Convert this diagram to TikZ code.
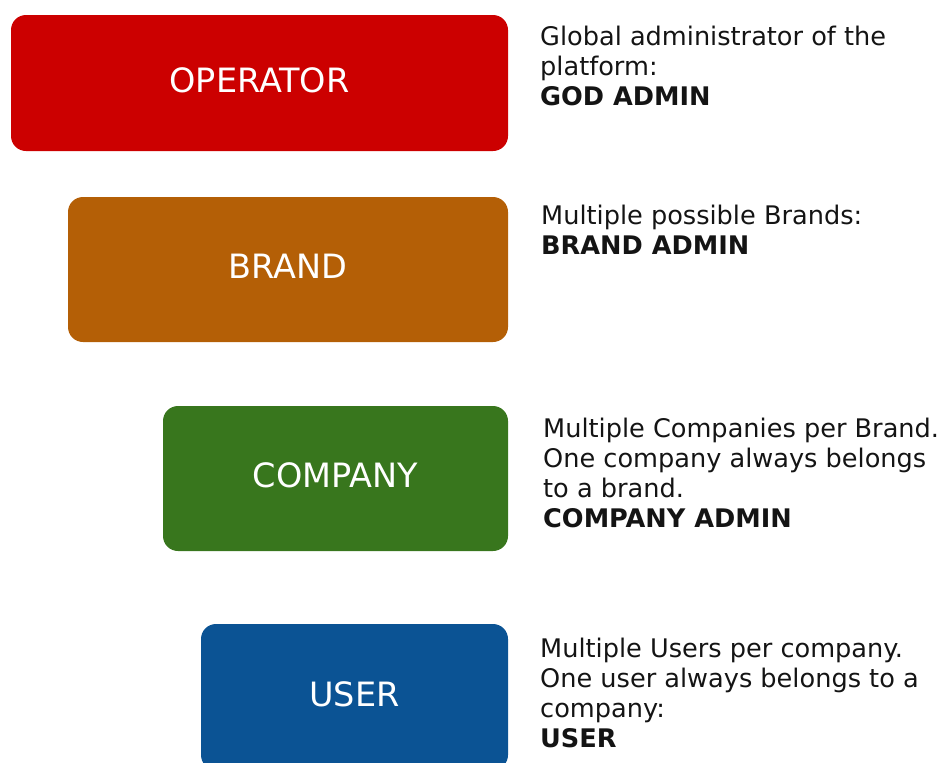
\documentclass[tikz,border=0pt]{standalone}
\usepackage{fontspec}
\setmainfont{DejaVu Sans}
\definecolor{opred}{HTML}{CC0000}
\definecolor{brbrown}{HTML}{B45F06}
\definecolor{cogreen}{HTML}{38761D}
\definecolor{usblue}{HTML}{0B5394}
\begin{document}
\begin{tikzpicture}[x=1pt,y=-1pt,
  levelbox/.style={rounded corners=15pt, fill=#1, draw=none, text=white,
    font=\fontsize{33.5}{38}\selectfont, text depth=6pt, inner sep=0pt},
  desc/.style={anchor=north west, inner sep=0pt, align=left,
    font=\fontsize{25.6}{30}\selectfont, text=black!92}]
\useasboundingbox (0,0) rectangle (946,763);
\clip (0,0) rectangle (946,763);
\node[levelbox=opred, minimum width=497pt, minimum height=136pt] (operator) at (259.5,83) {OPERATOR};
\node[levelbox=brbrown, minimum width=440pt, minimum height=145pt] (brand) at (288,269.5) {BRAND};
\node[levelbox=cogreen, minimum width=345pt, minimum height=145pt] (company) at (335.5,478.5) {COMPANY};
\node[levelbox=usblue, minimum width=307pt, minimum height=146pt] (user) at (354.5,697) {USER};
\node[desc] (optext) at (540,25.5) {Global administrator of the\\platform:\\\textbf{GOD ADMIN}};
\node[desc] (brtext) at (541,204.5) {Multiple possible Brands:\\\textbf{BRAND ADMIN}};
\node[desc] (cotext) at (543,417.5) {Multiple Companies per Brand.\\One company always belongs\\to a brand.\\\textbf{COMPANY ADMIN}};
\node[desc] (ustext) at (540,637.5) {Multiple Users per company.\\One user always belongs to a\\company:\\\textbf{USER}};
\end{tikzpicture}
\end{document}
